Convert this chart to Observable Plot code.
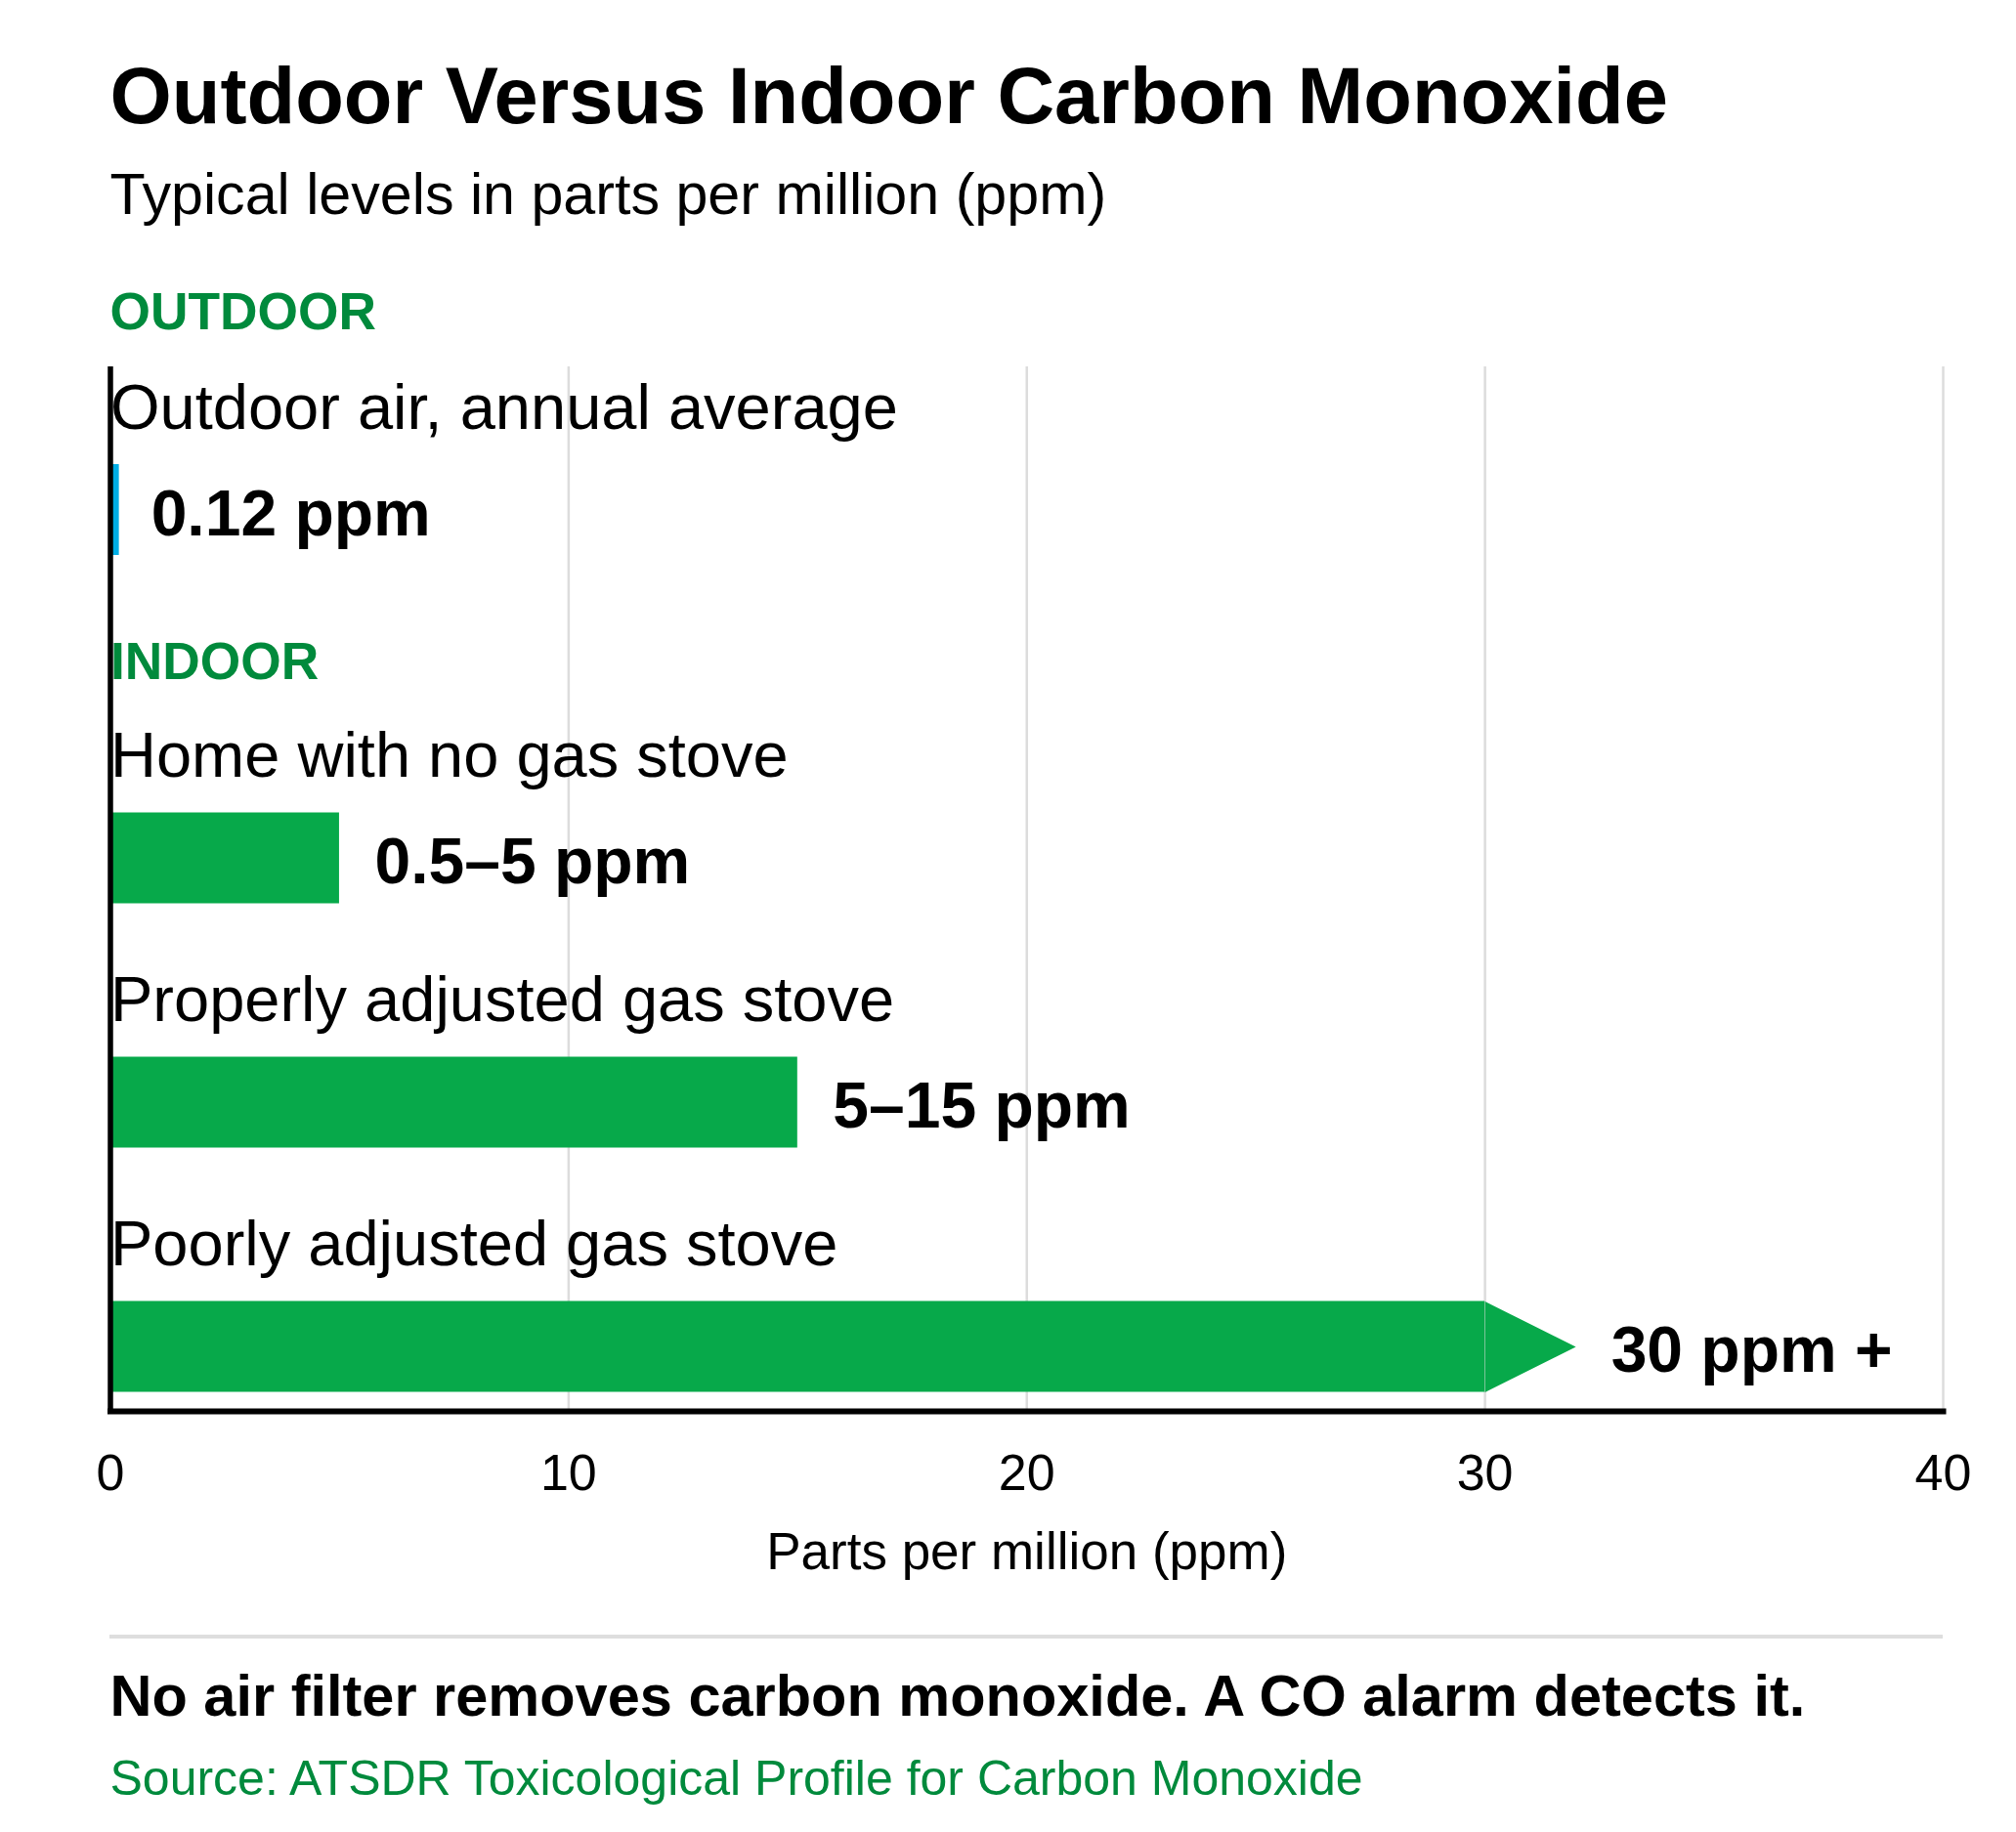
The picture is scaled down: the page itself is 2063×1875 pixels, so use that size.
<!DOCTYPE html>
<html>
<head>
<meta charset="utf-8">
<script src="https://cdn.jsdelivr.net/npm/d3@7"></script>
<script src="https://cdn.jsdelivr.net/npm/@observablehq/plot@0.6"></script>
<style>
  html, body { margin: 0; padding: 0; background: #ffffff; }
  body { width: 2063px; height: 1875px; overflow: hidden; position: relative;
         font-family: "Liberation Sans", Arial, Helvetica, sans-serif; color: #000; }
  .t { position: absolute; left: 112.5px; line-height: 1; white-space: nowrap; margin: 0; }
  #title { top: 57.2px; font-size: 81.3px; font-weight: bold; }
  #subtitle { top: 169px; font-size: 59.2px; }
  #outdoorHead { top: 291.9px; font-size: 53.3px; font-weight: bold; color: #008a3c; }
  #divider { position: absolute; left: 112px; top: 1673px; width: 1876px; height: 4px; background: #dedede; }
  #note { top: 1706.3px; font-size: 59.5px; font-weight: bold; }
  #source { top: 1795.4px; font-size: 50px; color: #008a3c; }
  #plotA { position: absolute; left: 0; top: 375px; }
  #plotB { position: absolute; left: 0; top: 640px; }
  #plotA svg, #plotB svg { display: block; }
</style>
</head>
<body>
<div class="t" id="title"></div>
<div class="t" id="subtitle"></div>
<div class="t" id="outdoorHead"></div>
<div id="plotA"></div>
<div id="plotB"></div>
<div id="divider"></div>
<div class="t" id="note"></div>
<div class="t" id="source"></div>
<script>
// ---------- data ----------
const titleText = "Outdoor Versus Indoor Carbon Monoxide";
const subtitleText = "Typical levels in parts per million (ppm)";
const noteText = "No air filter removes carbon monoxide. A CO alarm detects it.";
const sourceText = "Source: ATSDR Toxicological Profile for Carbon Monoxide";
const groupNames = ["OUTDOOR", "INDOOR"];
const categories = [
  "Outdoor air, annual average",
  "Home with no gas stove",
  "Properly adjusted gas stove",
  "Poorly adjusted gas stove"
];
const groups = ["OUTDOOR", "INDOOR", "INDOOR", "INDOOR"];
const lowValues = [0.12, 0.5, 5, 30];
const highValues = [0.12, 5, 15, 30];
const valueLabels = ["0.12 ppm", "0.5–5 ppm", "5–15 ppm", "30 ppm +"];
const openEnded = [false, false, false, true];
const xTicks = [0, 10, 20, 30, 40];
const xDomain = [0, 40];
const xLabel = "Parts per million (ppm)";

// ---------- styles ----------
const FONT = '"Liberation Sans", Arial, Helvetica, sans-serif';
const GREEN_BAR = "#07a94a";
const CYAN_BAR = "#00aee6";
const GREEN_TEXT = "#008a3c";
const GRID = "#dcdcdc";
const colorOf = { OUTDOOR: CYAN_BAR, INDOOR: GREEN_BAR };

document.getElementById("title").textContent = titleText;
document.getElementById("subtitle").textContent = subtitleText;
document.getElementById("outdoorHead").textContent = groupNames[0];
document.getElementById("note").textContent = noteText;
document.getElementById("source").textContent = sourceText;

const rows = categories.map((c, i) => ({
  category: c, group: groups[i], low: lowValues[i], high: highValues[i],
  label: valueLabels[i], open: openEnded[i]
}));

// right-pointing arrow head (custom symbol): base at the anchor, tip 2r to the right
const arrowHead = {
  draw(ctx, size) {
    const r = Math.sqrt(size / Math.PI);
    ctx.moveTo(0, -r);
    ctx.lineTo(2 * r, 0);
    ctx.lineTo(0, r);
    ctx.closePath();
  }
};

const BAR_H = 93;
const LABEL_GAP = 36;

function rowMarks(data, cfg) {
  return [
    Plot.ruleX(xTicks.filter(t => t > 0), {stroke: GRID, strokeWidth: 2.5}),
    Plot.barX(data, {
      x1: () => 0, x2: "high", y: "category",
      fill: d => colorOf[d.group],
      insetTop: cfg.insetTop, insetBottom: cfg.insetBottom,
      insetRight: cfg.insetRight || 0
    }),
    Plot.dot(data.filter(d => d.open), {
      x: "high", y: "category", symbol: arrowHead, r: BAR_H / 2,
      fill: d => colorOf[d.group], stroke: "none", dy: cfg.barDy
    }),
    Plot.ruleX([0], {stroke: "#000", strokeWidth: 5.5}),
    Plot.text(data, {
      x: () => 0, y: "category", text: "category",
      textAnchor: "start", lineAnchor: "bottom", dy: cfg.labelDy,
      fontSize: 65, fill: "#000", fontFamily: FONT
    }),
    Plot.text(data.filter(d => !d.open), {
      x: "high", y: "category", text: "label",
      textAnchor: "start", lineAnchor: "bottom", dx: LABEL_GAP, dy: cfg.valueDy,
      fontSize: 66, fontWeight: "bold", fill: "#000", fontFamily: FONT
    }),
    Plot.text(data.filter(d => d.open), {
      x: "high", y: "category", text: "label",
      textAnchor: "start", lineAnchor: "bottom", dx: LABEL_GAP + BAR_H, dy: cfg.valueDy,
      fontSize: 66, fontWeight: "bold", fill: "#000", fontFamily: FONT
    })
  ];
}

// ---------- plot A : outdoor ----------
const outdoorRows = rows.filter(d => d.group === "OUTDOOR");
const plotA = Plot.plot({
  width: 2063, height: 265,
  marginTop: 0, marginBottom: 0, marginLeft: 112.5, marginRight: 75,
  style: {fontFamily: FONT, background: "transparent", overflow: "visible"},
  x: {domain: xDomain, axis: null},
  y: {domain: outdoorRows.map(d => d.category), padding: 0, round: false, axis: null},
  marks: rowMarks(outdoorRows, {insetTop: 100, insetBottom: 72, insetRight: -3.5, labelDy: -69.5, valueDy: 40, barDy: 14.5})
});
document.getElementById("plotA").appendChild(plotA);

// ---------- plot B : indoor ----------
const indoorRows = rows.filter(d => d.group === "INDOOR");
const plotB = Plot.plot({
  width: 2063, height: 1000,
  marginTop: 0, marginBottom: 196, marginLeft: 112.5, marginRight: 75,
  style: {fontFamily: FONT, background: "transparent", overflow: "visible"},
  x: {domain: xDomain, axis: null},
  y: {domain: indoorRows.map(d => d.category), paddingInner: 0, paddingOuter: 0.108, align: 1, round: false, axis: null},
  marks: [
    ...rowMarks(indoorRows, {insetTop: 137.5, insetBottom: 19.5, labelDy: -24.5, valueDy: 84.6, barDy: 59}),
    Plot.text([groupNames[1]], {
      frameAnchor: "top-left", text: d => d, textAnchor: "start", lineAnchor: "bottom",
      dy: 54, fontSize: 53.3, fontWeight: "bold", fill: GREEN_TEXT, fontFamily: FONT
    }),
    Plot.frame({anchor: "bottom", stroke: "#000", strokeWidth: 6}),
    Plot.axisX(xTicks, {
      tickSize: 0, tickPadding: 43.6, fontSize: 52, fill: "#000", label: null, fontFamily: FONT
    }),
    Plot.text([xLabel], {
      frameAnchor: "bottom", text: d => d, lineAnchor: "bottom", dy: 161.5,
      fontSize: 53, fill: "#000", fontFamily: FONT
    })
  ]
});
document.getElementById("plotB").appendChild(plotB);
</script>
</body>
</html>
